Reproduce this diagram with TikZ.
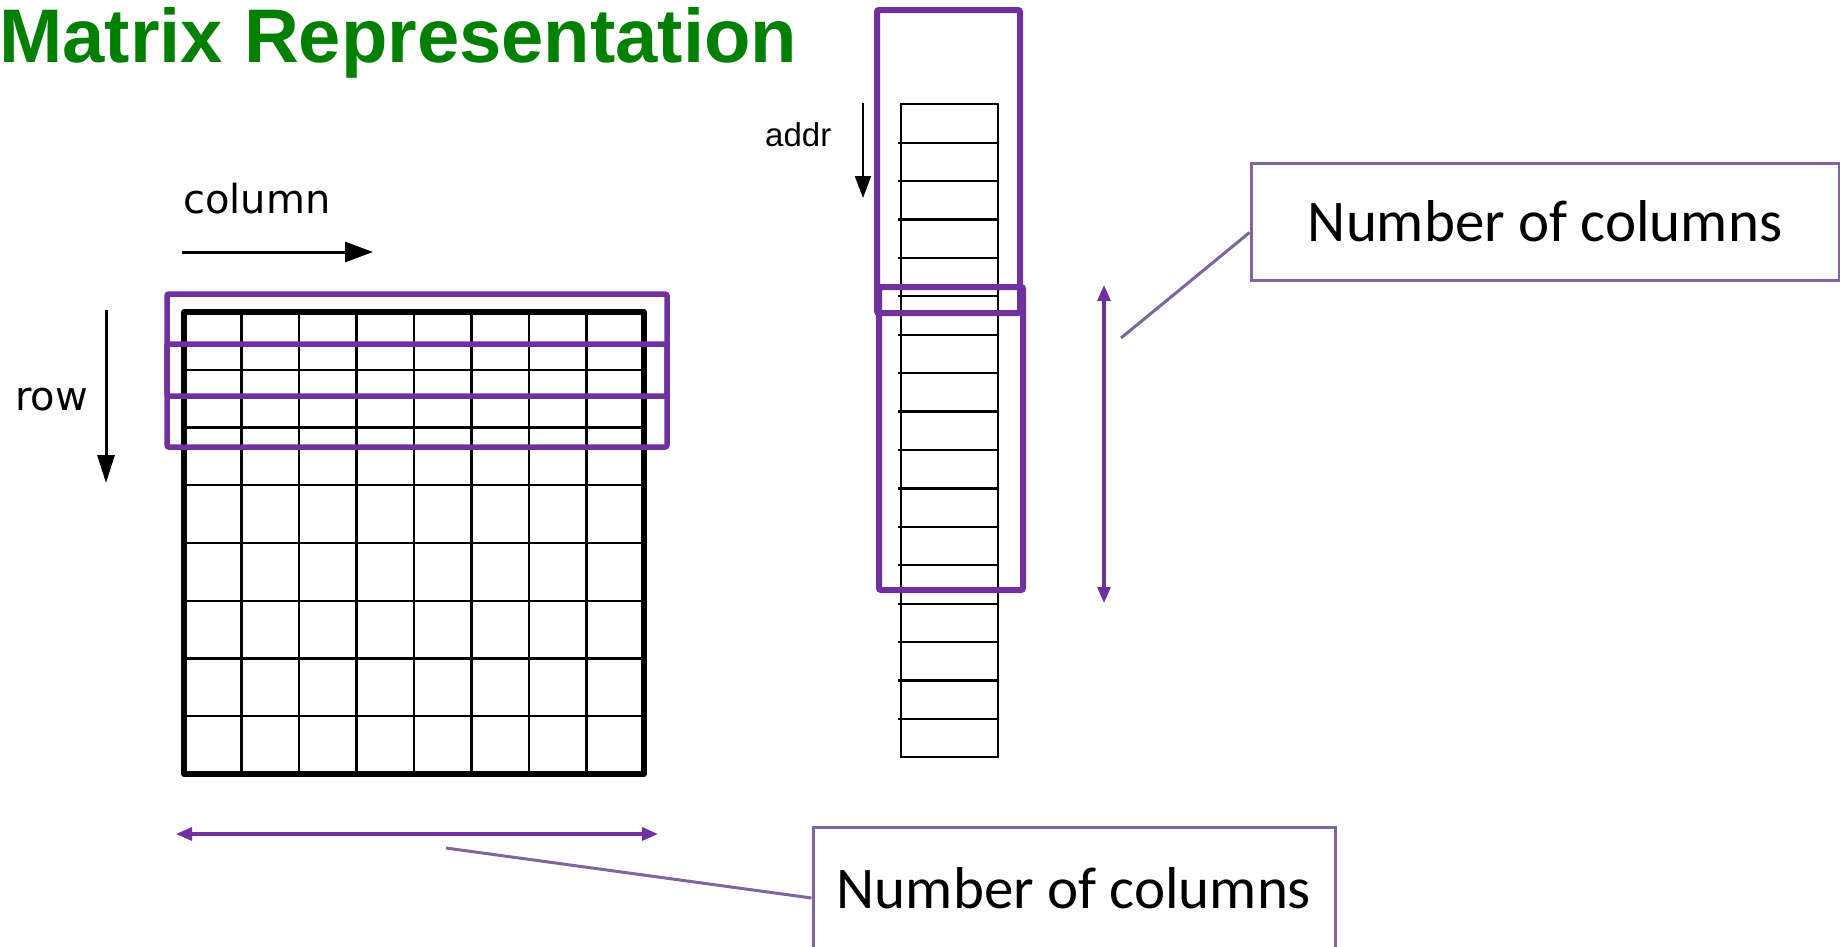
\documentclass[tikz,border=0pt]{standalone}
\usepackage{fontspec}
\setmainfont{Liberation Sans}
\newfontfamily\titlefont{Liberation Sans}
\newfontfamily\labfont{DejaVu Sans}
\newfontfamily\calfont{Carlito}
\usetikzlibrary{arrows.meta,calc}
\definecolor{hlpurple}{HTML}{7030A0}
\definecolor{callpurple}{HTML}{8064A2}
\definecolor{titlegreen}{HTML}{008000}
\begin{document}
\begin{tikzpicture}[x=1pt,y=-1pt,
  gridline/.style={line width=2.2pt},
  hlbox/.style={draw=hlpurple, line width=5.5pt, rounded corners=2pt},
  membox/.style={draw=hlpurple, line width=6pt, rounded corners=2pt},
  callout/.style={draw=callpurple, line width=3pt, inner sep=0pt,
     font=\calfont\fontsize{59}{70}\selectfont},
  leader/.style={draw=callpurple, line width=3pt},
  dimarrow/.style={draw=hlpurple, line width=3.2pt,
     {Triangle[length=16pt,width=13pt]}-{Triangle[length=16pt,width=13pt]}},
  dirarrow/.style={line width=3pt, -{Triangle[length=28pt,width=20pt]}},
  lab/.style={inner sep=0pt, anchor=base west, font=\labfont\fontsize{40}{48}\selectfont}
]
\useasboundingbox (0,0) rectangle (1840,946);

% title
\node[inner sep=0pt, anchor=base west, text=titlegreen,
      font=\titlefont\bfseries\fontsize{76}{90}\selectfont] (title) at (-1,62) {Matrix Representation};

% labels and direction arrows
\node[lab] (collab) at (183,213) {column};
\node[lab] (rowlab) at (15,410) {row};
\coordinate (colA) at (182,252);
\coordinate (colB) at (373,252);
\draw[dirarrow] (colA) -- (colB);
\coordinate (rowA) at (106,310);
\coordinate (rowB) at (106,483);
\draw[line width=3pt, -{Triangle[length=28pt,width=17pt]}] (rowA) -- (rowB);

% matrix grid
\foreach \i in {1,...,7} {
  \draw[gridline] ({184+57.5*\i},312) -- ({184+57.5*\i},774);
  \draw[gridline] (184,{312+57.75*\i}) -- (644,{312+57.75*\i});
}
\draw[line width=5.5pt, line join=round] (184,312) rectangle (644,774);

% highlight boxes on matrix
\draw[hlbox] (167,294) rectangle (667,447);
\draw[hlbox] (167,344) rectangle (667,396);

% memory array
\foreach \i in {1,...,16} {
  \draw[gridline] (898,{104.3+38.41*\i}) -- (998,{104.3+38.41*\i});
}
\draw[gridline] (901,104.3) rectangle (998,757.3);

% addr label and arrow
\node[inner sep=0pt, anchor=base west, font=\fontsize{33}{40}\selectfont] (addrlab) at (765,146.7) {addr};
\coordinate (adA) at (863,103);
\coordinate (adB) at (863,198);
\draw[line width=2.2pt, -{Triangle[length=22pt,width=16pt]}] (adA) -- (adB);

% highlight boxes on memory array
\draw[membox] (877,10) rectangle (1020,313);
\draw[membox] (879,287) rectangle (1023,590);

% dimension arrows
\coordinate (vdA) at (1104,285);
\coordinate (vdB) at (1104,603);
\draw[dimarrow] (vdA) -- (vdB);
\coordinate (hdA) at (176,834);
\coordinate (hdB) at (658,834);
\draw[dimarrow] (hdA) -- (hdB);

% callouts
\node[callout, minimum width=588pt, minimum height=117pt] (c1) at (1545,221.5) {Number of columns};
\node[callout, minimum width=522pt, minimum height=123pt] (c2) at (1074,888.5) {Number of columns};
\coordinate (l1) at (1121,338);
\coordinate (l2) at (446,848);
\draw[leader] (l1) -- ($(c1.west)+(0,11)$);
\draw[leader] (l2) -- ($(c2.west)+(0,9.5)$);
\end{tikzpicture}
\end{document}
